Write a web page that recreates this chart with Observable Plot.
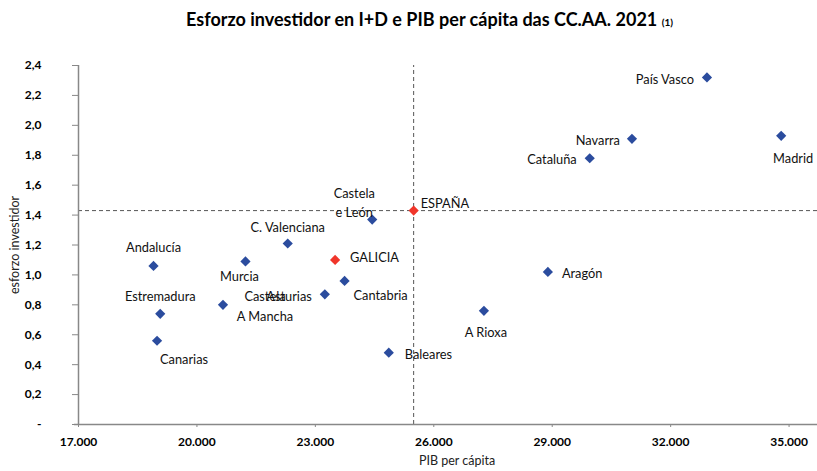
<!DOCTYPE html>
<html>
<head>
<meta charset="utf-8">
<script src="https://cdn.jsdelivr.net/npm/d3@7"></script>
<script src="https://cdn.jsdelivr.net/npm/@observablehq/plot@0.6"></script>
<style>
  body { margin: 0; background: #fff; font-family: Lato, "Open Sans", sans-serif; }
  #title { height: 40px; width: 817px; box-sizing: border-box; padding-left: 42px; text-align: center; font-weight: bold; font-size: 18px; line-height: 38px; color: #000; }
  #title .note { font-size: 10px; }
  svg { display: block; }
</style>
</head>
<body>
<div id="title">Esforzo investidor en I+D e PIB per cápita das CC.AA. 2021 <span class="note">(1)</span></div>
<div id="chart"></div>
<script>
// --- data ---
const regions = ["País Vasco", "Navarra", "Madrid", "Cataluña", "ESPAÑA", "Castela\ne León", "C. Valenciana", "GALICIA", "Andalucía", "Murcia", "Cantabria", "Asturias", "Castela\nA Mancha", "Estremadura", "Canarias", "Baleares", "A Rioxa", "Aragón"];
const pibPerCapita = [32920, 31020, 34800, 29950, 25490, 24440, 22300, 23500, 18900, 21230, 23740, 23240, 20660, 19070, 18990, 24860, 27270, 28890];
const esforzoInvestidor = [2.32, 1.91, 1.93, 1.78, 1.43, 1.37, 1.21, 1.10, 1.06, 1.09, 0.96, 0.87, 0.80, 0.74, 0.56, 0.48, 0.76, 1.02];
const highlighted = ["ESPAÑA", "GALICIA"];
const xTicks = [17000, 20000, 23000, 26000, 29000, 32000, 35000];
const yTicks = [0, 0.2, 0.4, 0.6, 0.8, 1.0, 1.2, 1.4, 1.6, 1.8, 2.0, 2.2, 2.4];

// label placement (layout only)
const labelPlacement = {
  "País Vasco": {dx: -13, dy: 0, anchor: "end"},
  "Navarra": {dx: -12, dy: 0, anchor: "end"},
  "Madrid": {dx: 12, dy: 21, anchor: "middle"},
  "Cataluña": {dx: -13, dy: 0, anchor: "end"},
  "ESPAÑA": {dx: 7, dy: -9, anchor: "start"},
  "Castela\ne León": {dx: -18, dy: -18, anchor: "middle"},
  "C. Valenciana": {dx: 0, dy: -18, anchor: "middle"},
  "GALICIA": {dx: 15, dy: -4, anchor: "start"},
  "Andalucía": {dx: 0, dy: -20, anchor: "middle"},
  "Murcia": {dx: -6, dy: 13, anchor: "middle"},
  "Cantabria": {dx: 9, dy: 13, anchor: "start"},
  "Asturias": {dx: -13, dy: 0, anchor: "end"},
  "Castela\nA Mancha": {dx: 42, dy: 0, anchor: "middle"},
  "Estremadura": {dx: 0, dy: -19, anchor: "middle"},
  "Canarias": {dx: 27, dy: 17, anchor: "middle"},
  "Baleares": {dx: 16, dy: 0, anchor: "start"},
  "A Rioxa": {dx: 2, dy: 20, anchor: "middle"},
  "Aragón": {dx: 14, dy: 0, anchor: "start"}
};

const rows = regions.map((name, i) => ({name, x: pibPerCapita[i], y: esforzoInvestidor[i], hi: highlighted.includes(name)}));
const spain = rows.find(d => d.name === "ESPAÑA");

const fmtX = d3.formatLocale({decimal: ",", thousands: ".", grouping: [3], currency: ["", ""]}).format(",");
const fmtY = d => d === 0 ? "-" : d.toFixed(1).replace(".", ",");

const xMax = 35720;

const labelMarks = rows.map(d => {
  const p = labelPlacement[d.name];
  return Plot.text([d], {x: "x", y: "y", text: "name", dx: p.dx, dy: p.dy, textAnchor: p.anchor, lineAnchor: "middle", lineHeight: 1.5, fontSize: 12.8, fill: "#111"});
});

const chart = Plot.plot({
  width: 817,
  height: 431,
  marginTop: 25,
  marginBottom: 47,
  marginLeft: 78,
  marginRight: 0,
  style: {fontFamily: "Lato, 'Open Sans', sans-serif", background: "#fff", overflow: "visible"},
  x: {domain: [17000, xMax]},
  y: {domain: [0, 2.4]},
  marks: [
    Plot.ruleX([spain], {x: "x", y1: 0, y2: 2.4, stroke: "#555", strokeDasharray: "4,3", strokeWidth: 1}),
    Plot.ruleY([spain], {y: "y", x1: 17000, x2: xMax, stroke: "#555", strokeDasharray: "4,3", strokeWidth: 1}),
    Plot.axisX({ticks: xTicks, tickFormat: fmtX, tickSize: 3, tickPadding: 10, stroke: "#888", fill: "#000", fontWeight: "bold", fontSize: 12, label: null}),
    Plot.axisY({ticks: yTicks, tickFormat: fmtY, tickSize: 6, tickPadding: 31, stroke: "#888", fill: "#000", fontWeight: "bold", fontSize: 12, label: null}),
    Plot.ruleX([17000], {y1: 0, y2: 2.4, stroke: "#888", strokeWidth: 1.5}),
    Plot.ruleY([0], {x1: 16900, x2: xMax, stroke: "#888", strokeWidth: 1.5}),
    Plot.dot(rows, {x: "x", y: "y", symbol: "diamond2", r: 4.6, fill: d => d.hi ? "#F0352A" : "#2B4C9E", stroke: "none"}),
    ...labelMarks,
    Plot.text(["esforzo investidor"], {frameAnchor: "left", rotate: -90, dx: -64, textAnchor: "middle", lineAnchor: "middle", fontSize: 12.5, fill: "#222"}),
    Plot.text(["PIB per cápita"], {frameAnchor: "bottom", dx: 9, dy: 36, textAnchor: "middle", lineAnchor: "middle", fontSize: 12.5, fill: "#222"})
  ]
});
document.getElementById("chart").appendChild(chart);
</script>
</body>
</html>
